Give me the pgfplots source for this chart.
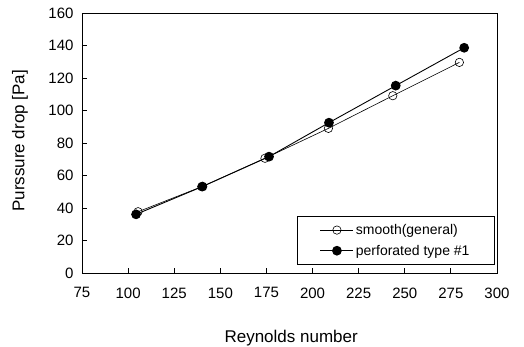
\documentclass[border=0pt]{standalone}
\usepackage{fontspec}
\setmainfont{Liberation Sans}
\usepackage{pgfplots}
\pgfplotsset{compat=1.18}
\begin{document}
\begin{tikzpicture}
\begin{axis}[
  at={(0pt,0pt)}, anchor=south west,
  scale only axis, width=415pt, height=260pt,
  xmin=75, xmax=300, ymin=0, ymax=160,
  xtick={75,100,...,300}, ytick={0,20,...,160},
  xtick pos=left, ytick pos=left,
  tick align=inside, major tick length=5pt,
  axis line style={line width=0.9pt},
  tick style={line width=0.8pt, black},
  /pgf/number format/assume math mode=true,
  tick label style={font=\fontsize{15}{17}\selectfont},
  xticklabel style={yshift=-11pt},
  yticklabel style={xshift=-5pt},
  xlabel={Reynolds number},
  ylabel={Purssure drop [Pa]},
  xlabel style={font=\fontsize{17}{20}\selectfont, at={(axis description cs:0.504,0)}, anchor=center, yshift=-65pt},
  ylabel style={font=\fontsize{17}{20}\selectfont, at={(axis description cs:0,0.508)}, anchor=center, yshift=62pt},
  legend style={at={(rel axis cs:0.995,0.031)}, anchor=south east, draw=black, line width=0.8pt,
     font=\fontsize{14}{16}\selectfont, row sep=5pt, inner xsep=23pt, inner ysep=6pt},
  legend cell align=left,
  legend image code/.code={
    \draw[#1,mark=none] (0pt,0pt) -- (33pt,0pt);
    \draw[#1] plot coordinates {(16.5pt,0pt)};
  },
]
\addplot[black, line width=0.6pt, mark=o, mark size=4.2pt, mark options={fill=white, line width=0.6pt}]
  coordinates {(105.4,37.7) (139.9,53.1) (174.2,70.6) (208.6,89.0) (243.5,109.1) (279.6,129.6)};
\addlegendentry{smooth(general)}
\addplot[black, line width=0.9pt, mark=*, mark size=4.4pt]
  coordinates {(104.3,36.1) (140.3,53.2) (176.4,71.6) (208.9,92.5) (245.1,115.3) (282.2,138.6)};
\addlegendentry{perforated type \#1}
\end{axis}
\pgfresetboundingbox
\useasboundingbox (-82pt,-74pt) rectangle (442pt,273pt);
\end{tikzpicture}
\end{document}
